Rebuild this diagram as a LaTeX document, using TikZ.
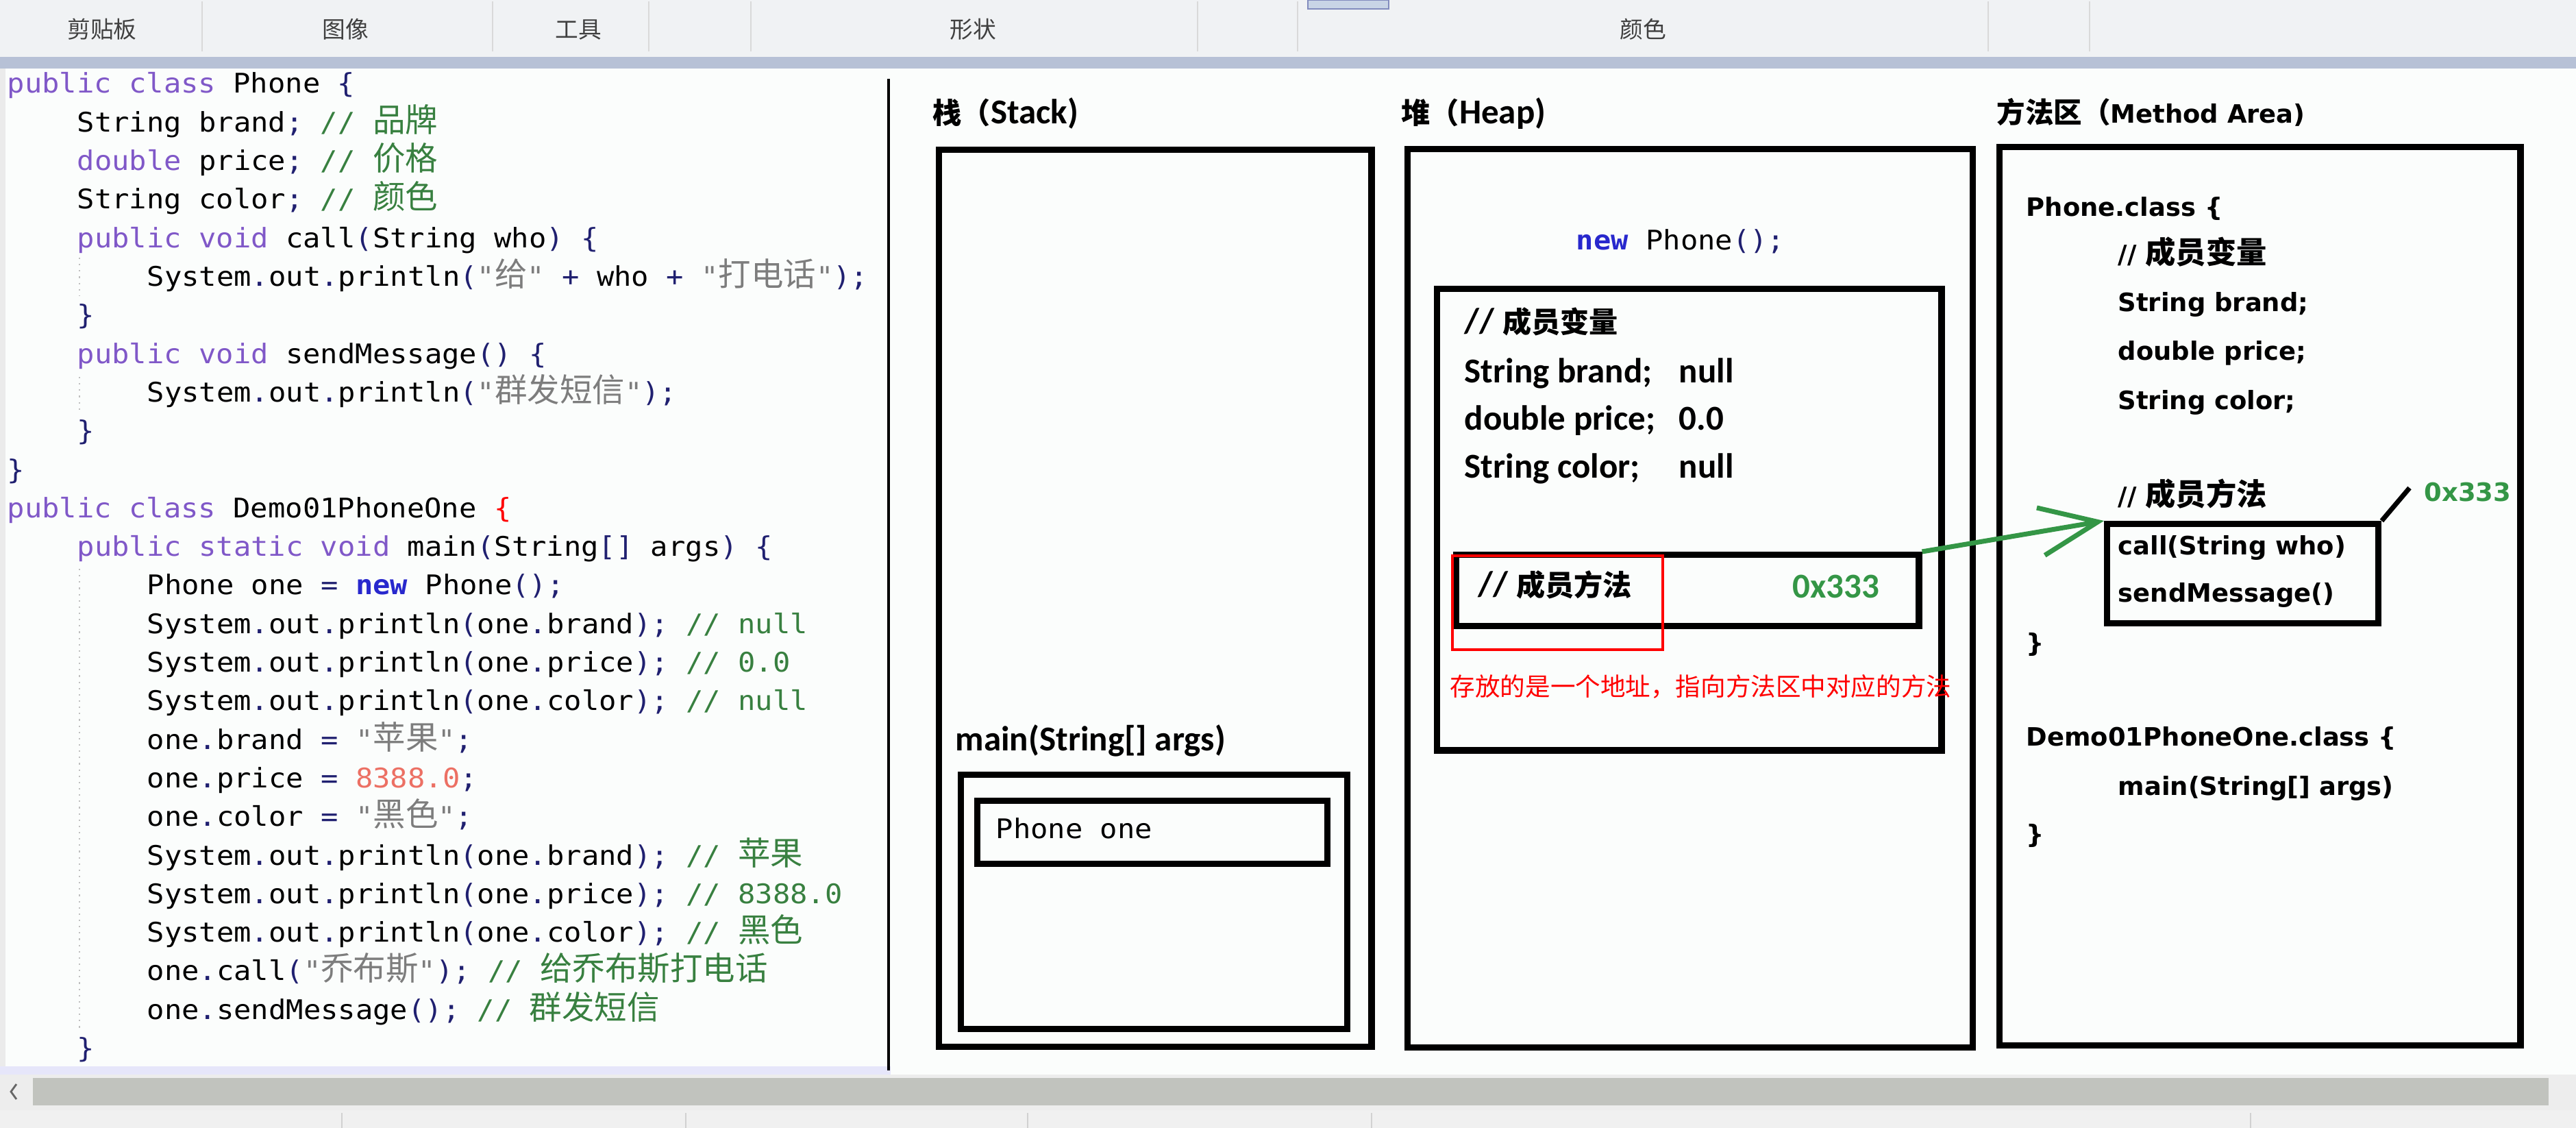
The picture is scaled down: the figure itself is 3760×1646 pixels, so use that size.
\documentclass[tikz,border=0pt]{standalone}
\usepackage{fontspec}
\setmainfont{Carlito}
\newfontfamily\codefont[FakeStretch=1.07]{DejaVu Sans Mono}
\newfontfamily\cjk{Noto Sans CJK SC}
\newfontfamily\verdfont{DejaVu Sans}
\usetikzlibrary{arrows.meta}
\definecolor{KeyPurple}{RGB}{128,88,200}
\definecolor{OpNavy}{RGB}{32,32,112}
\definecolor{NewBlue}{RGB}{40,40,205}
\definecolor{CommentGreen}{RGB}{56,128,64}
\definecolor{StrGray}{RGB}{125,125,125}
\definecolor{NumSalmon}{RGB}{236,112,100}
\definecolor{AddrGreen}{RGB}{52,150,70}
\definecolor{BarGray}{RGB}{240,242,244}
\definecolor{BandBlue}{RGB}{183,193,214}
\definecolor{ScrollGray}{RGB}{193,195,190}
\definecolor{PaperWhite}{RGB}{251,253,252}
\definecolor{TabBlue}{RGB}{200,212,230}
\definecolor{TabEdge}{RGB}{130,140,190}
\definecolor{Lavender}{RGB}{230,230,250}
\newcommand{\kw}[1]{\textcolor{KeyPurple}{#1}}
\newcommand{\op}[1]{\textcolor{OpNavy}{#1}}
\newcommand{\cmt}[1]{\textcolor{CommentGreen}{#1}}
\newcommand{\strg}[1]{\textcolor{StrGray}{#1}}
\newcommand{\zh}[2][13.5]{{\cjk\fontsize{#1}{#1}\selectfont #2}}

\begin{document}
\begin{tikzpicture}[x=0.01cm, y=-0.01cm,
  membox/.style={draw, line width=2.6pt, anchor=north west, inner sep=0pt},
  codeline/.style={anchor=base west, inner sep=0pt, font=\codefont\fontsize{11.2}{13}\selectfont},
  heaptext/.style={anchor=base west, inner sep=0pt, font=\bfseries\fontsize{14.5}{16}\selectfont},
  areatext/.style={anchor=base west, inner sep=0pt, font=\verdfont\bfseries\fontsize{10.5}{12}\selectfont},
  tabtext/.style={anchor=base, inner sep=0pt, text=black!75, font=\cjk\fontsize{9.6}{10}\selectfont}]
  \useasboundingbox (0,0) rectangle (3760,1646);
  % window chrome
  \fill[PaperWhite] (0,0) rectangle (3760,1646);
  \fill[BarGray] (0,0) rectangle (3760,83);
  \fill[BandBlue] (0,83) rectangle (3760,100);
  \filldraw[fill=TabBlue, draw=TabEdge] (1909,0) rectangle (2027,13);
  \foreach \sx in {295,719,947,1096,1748,1894,2902,3050}
    \draw[black!15, line width=0.6pt] (\sx,2) -- (\sx,75);
  \node[tabtext] (tclip) at (149,56) {剪贴板};
  \node[tabtext] (timage) at (504,56) {图像};
  \node[tabtext] (ttools) at (844,56) {工具};
  \node[tabtext] (tshape) at (1420,56) {形状};
  \node[tabtext] (tcolor) at (2398,56) {颜色};
  \fill[black!8] (0,100) rectangle (8,1568);
  \fill[Lavender] (0,1556) rectangle (1300,1568);
  \draw[line width=1.2pt] (1297,115) -- (1297,1562);
  \fill[black!7] (0,1568) rectangle (3760,1620);
  \fill[ScrollGray] (48,1573) rectangle (3720,1613);
  \draw[black!60, line width=0.8pt] (24,1582) -- (16,1593) -- (24,1604);
  \fill[black!6] (0,1620) rectangle (3760,1646);
  \foreach \sx in {499,1001,1500,2002,3285}
    \draw[black!18, line width=0.6pt] (\sx,1624) -- (\sx,1646);
  % indent guides
  \draw[black!25, dotted, line width=0.6pt] (116,376) -- (116,431);
  \draw[black!25, dotted, line width=0.6pt] (116,550) -- (116,599);
  \draw[black!25, dotted, line width=0.6pt] (116,830) -- (116,1503);

  % source code
  \node[codeline] (c0) at (10,136) {\kw{public class} Phone \op{\{}};
  \node[codeline] (c1) at (112,192.3) {String brand\op{;} \cmt{// \zh{品牌}}};
  \node[codeline] (c2) at (112,248.6) {\kw{double} price\op{;} \cmt{// \zh{价格}}};
  \node[codeline] (c3) at (112,304.9) {String color\op{;} \cmt{// \zh{颜色}}};
  \node[codeline] (c4) at (112,361.2) {\kw{public void} call\op{(}String who\op{) \{}};
  \node[codeline] (c5) at (214,417.5) {System\op{.}out\op{.}println\op{(}\strg{"\zh{给}"} \op{+} who \op{+} \strg{"\zh{打电话}"}\op{);}};
  \node[codeline] (c6) at (112,473.8) {\op{\}}};
  \node[codeline] (c7) at (112,530.1) {\kw{public void} sendMessage\op{() \{}};
  \node[codeline] (c8) at (214,586.4) {System\op{.}out\op{.}println\op{(}\strg{"\zh{群发短信}"}\op{);}};
  \node[codeline] (c9) at (112,642.7) {\op{\}}};
  \node[codeline] (c10) at (10,699) {\op{\}}};
  \node[codeline] (c11) at (10,755.3) {\kw{public class} Demo01PhoneOne \textcolor{red}{\{}};
  \node[codeline] (c12) at (112,811.6) {\kw{public static void} main\op{(}String\op{[]} args\op{) \{}};
  \node[codeline] (c13) at (214,867.9) {Phone one \op{=} \textcolor{NewBlue}{\bfseries new} Phone\op{();}};
  \node[codeline] (c14) at (214,924.2) {System\op{.}out\op{.}println\op{(}one\op{.}brand\op{);} \cmt{// null}};
  \node[codeline] (c15) at (214,980.5) {System\op{.}out\op{.}println\op{(}one\op{.}price\op{);} \cmt{// 0.0}};
  \node[codeline] (c16) at (214,1036.8) {System\op{.}out\op{.}println\op{(}one\op{.}color\op{);} \cmt{// null}};
  \node[codeline] (c17) at (214,1093.1) {one\op{.}brand \op{=} \strg{"\zh{苹果}"}\op{;}};
  \node[codeline] (c18) at (214,1149.4) {one\op{.}price \op{=} \textcolor{NumSalmon}{8388.0}\op{;}};
  \node[codeline] (c19) at (214,1205.7) {one\op{.}color \op{=} \strg{"\zh{黑色}"}\op{;}};
  \node[codeline] (c20) at (214,1262) {System\op{.}out\op{.}println\op{(}one\op{.}brand\op{);} \cmt{// \zh{苹果}}};
  \node[codeline] (c21) at (214,1318.3) {System\op{.}out\op{.}println\op{(}one\op{.}price\op{);} \cmt{// 8388.0}};
  \node[codeline] (c22) at (214,1374.6) {System\op{.}out\op{.}println\op{(}one\op{.}color\op{);} \cmt{// \zh{黑色}}};
  \node[codeline] (c23) at (214,1430.9) {one\op{.}call\op{(}\strg{"\zh{乔布斯}"}\op{);} \cmt{// \zh{给乔布斯打电话}}};
  \node[codeline] (c24) at (214,1487.2) {one\op{.}sendMessage\op{();} \cmt{// \zh{群发短信}}};
  \node[codeline] (c25) at (112,1543.5) {\op{\}}};

  % stack
  \node[heaptext] (stacklabel) at (1361,181) {\zh[12]{栈（}Stack)};
  \node[membox, minimum width=6.31cm, minimum height=13.08cm] (stack) at (1366,214) {};
  \node[heaptext] (mainlabel) at (1394,1095) {main(String[] args)};
  \node[membox, minimum width=5.64cm, minimum height=3.71cm] (frame) at (1398,1126) {};
  \node[membox, minimum width=5.11cm, minimum height=0.92cm] (ref) at (1422,1164) {};
  \node[codeline] (refvar) at (1453,1223) {Phone one};

  % heap
  \node[heaptext] (heaplabel) at (2045,181) {\zh[12]{堆（}Heap)};
  \node[membox, minimum width=8.24cm, minimum height=13.10cm] (heap) at (2050,213) {};
  \node[codeline, anchor=base] (newobj) at (2453,365) {\textcolor{NewBlue}{\bfseries new} Phone\op{();}};
  \node[membox, minimum width=7.36cm, minimum height=6.73cm] (obj) at (2093,417) {};
  \node[heaptext] (hcomment) at (2137,486) {// \zh[12]{成员变量}};
  \node[heaptext] (hbrand) at (2137,558) {String brand;};
  \node[heaptext] (hbrandval) at (2450,558) {null};
  \node[heaptext] (hprice) at (2137,627) {double price;};
  \node[heaptext] (hpriceval) at (2450,627) {0.0};
  \node[heaptext] (hcolor) at (2137,697) {String color;};
  \node[heaptext] (hcolorval) at (2450,697) {null};
  \node[membox, minimum width=6.75cm, minimum height=1.04cm] (hmeth) at (2121,805) {};
  \node[heaptext] (hmcomment) at (2157,869) {// \zh[12]{成员方法}};
  \node[heaptext, text=AddrGreen] (haddr) at (2616,872) {0x333};
  \node[draw=red, line width=1.2pt, anchor=north west, inner sep=0pt, minimum width=3.07cm, minimum height=1.37cm] (redbox) at (2118,809) {};
  \node[anchor=base west, inner sep=0pt, text=red] (hnote) at (2116,1015) {\zh[10.4]{存放的是一个地址，指向方法区中对应的方法}};

  % method area
  \node[areatext] (arealabel) at (2914,180) {\zh[11.8]{方法区（}Method Area)};
  \node[membox, minimum width=7.60cm, minimum height=13.10cm] (area) at (2914,210) {};
  \node[areatext] (aclass) at (2957,316) {Phone.class \{};
  \node[areatext] (avarc) at (3091,385) {// \zh[12.6]{成员变量}};
  \node[areatext] (abrand) at (3091,455) {String brand;};
  \node[areatext] (aprice) at (3091,526) {double price;};
  \node[areatext] (acolor) at (3091,597) {String color;};
  \node[areatext] (amethc) at (3091,737) {// \zh[12.6]{成员方法}};
  \node[membox, minimum width=3.96cm, minimum height=1.45cm] (mmeth) at (3071,760) {};
  \node[areatext] (acall) at (3091,809) {call(String who)};
  \node[areatext] (asend) at (3091,878) {sendMessage()};
  \node[areatext] (aclose) at (2957,951) {\}};
  \node[areatext] (ademo) at (2957,1088) {Demo01PhoneOne.class \{};
  \node[areatext] (amain) at (3091,1160) {main(String[] args)};
  \node[areatext] (aclose2) at (2957,1230) {\}};
  \node[areatext, text=AddrGreen] (aaddr) at (3538,731) {0x333};
  \coordinate (tick) at (3517,712);

  \draw[line width=2pt] (mmeth.north east) -- (tick);
  \draw[AddrGreen, line width=2pt, -{Straight Barb[length=24pt, width=20pt]}] (hmeth.north east) -- (mmeth.north west);
\end{tikzpicture}
\end{document}
